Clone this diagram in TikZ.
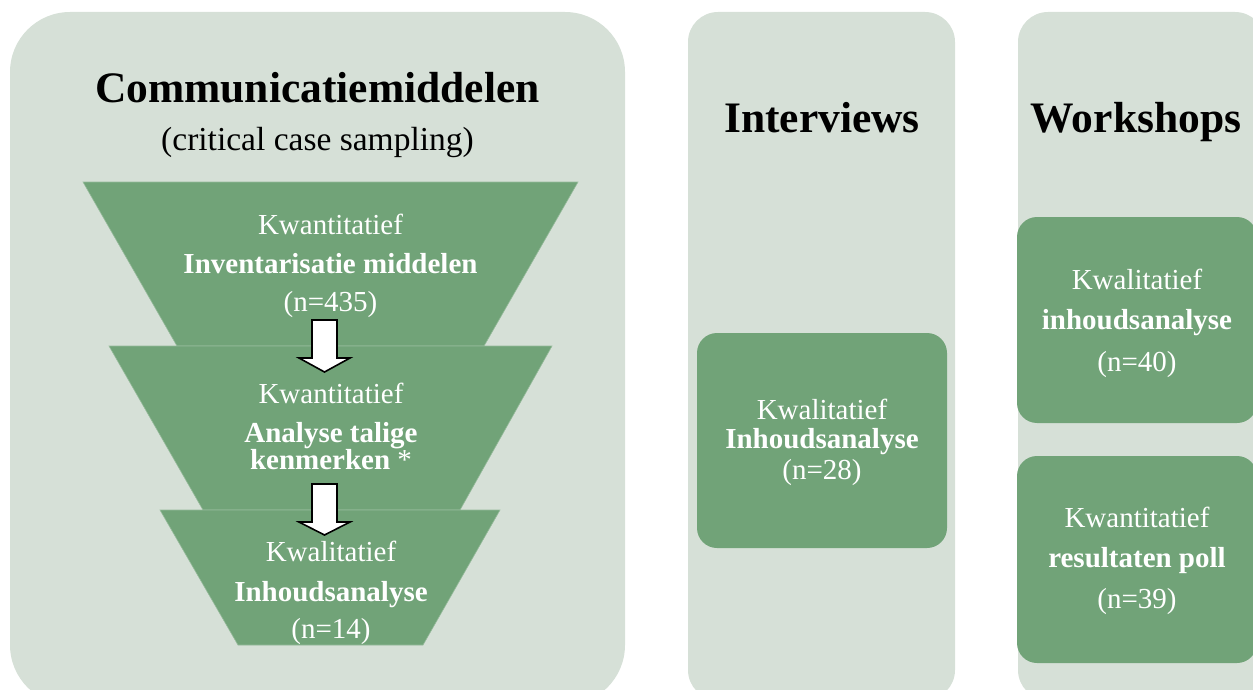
\documentclass[tikz,border=0pt]{standalone}
\usepackage{fontspec}
\setmainfont{Liberation Serif}
\definecolor{panelbg}{HTML}{D6E0D7}
\definecolor{boxgreen}{HTML}{71A378}
\begin{document}
\begin{tikzpicture}[x=1pt,y=-1pt,
  head/.style={font=\fontsize{43.5}{48}\selectfont\bfseries, text=black, anchor=base, inner sep=0pt},
  sub/.style={font=\fontsize{33.5}{38}\selectfont, text=black, anchor=base, inner sep=0pt},
  lbl/.style={font=\fontsize{29}{32}\selectfont, text=white, anchor=base, inner sep=0pt},
  lblb/.style={font=\fontsize{29}{32}\selectfont\bfseries, text=white, anchor=base, inner sep=0pt},
  funnel/.style={fill=boxgreen, draw=boxgreen!75!white, line width=0.6pt},
  greenbox/.style={fill=boxgreen, rounded corners=20pt},
  blockarrow/.style={fill=white, draw=black, line width=1.6pt, line join=miter}
]
\useasboundingbox (0,0) rectangle (1253,690);
\clip (0,0) rectangle (1253,690);
% panels
\fill[panelbg, rounded corners=60pt] (10,12) rectangle (625,705);
\fill[panelbg, rounded corners=30pt] (688,12) rectangle (955,700);
\fill[panelbg, rounded corners=30pt] (1018,12) rectangle (1265,700);
% headers
\node[head] (hcomm) at (317.5,103) {Communicatiemiddelen};
\node[sub] (hsub) at (317.5,150) {(critical case sampling)};
\node[head] (hint) at (822,133) {Interviews};
\node[head] (hwork) at (1136,133) {Workshops};
% funnel
\path[funnel] (83,182) -- (578,182) -- (484,346) -- (177,346) -- cycle;
\path[funnel] (109,346) -- (552,346) -- (460,510) -- (203,510) -- cycle;
\path[funnel] (160,510) -- (500,510) -- (423,645) -- (238,645) -- cycle;
% funnel texts
\node[lbl]  (f1a) at (330.5,234) {Kwantitatief};
\node[lblb] (f1b) at (330.5,273) {Inventarisatie middelen};
\node[lbl]  (f1c) at (330.5,311) {(n=435)};
\node[lbl]  (f2a) at (331,403) {Kwantitatief};
\node[lblb] (f2b) at (331,442) {Analyse talige};
\node[lblb] (f2c) at (331,469) {kenmerken \mdseries*};
\node[lbl]  (f3a) at (331,561) {Kwalitatief};
\node[lblb] (f3b) at (331,601) {Inhoudsanalyse};
\node[lbl]  (f3c) at (331,638) {(n=14)};
% block arrows
\draw[blockarrow] (312,320) -- (337,320) -- (337,358) -- (350,358) -- (324.5,372) -- (299,358) -- (312,358) -- cycle;
\draw[blockarrow] (312,484) -- (337,484) -- (337,522) -- (350,522) -- (324.5,535) -- (299,522) -- (312,522) -- cycle;
% interviews box
\fill[greenbox] (697,333) rectangle (947,548);
\node[lbl]  (i1) at (822,419) {Kwalitatief};
\node[lblb] (i2) at (822,448) {Inhoudsanalyse};
\node[lbl]  (i3) at (822,479) {(n=28)};
% workshops boxes
\fill[greenbox] (1017,217) rectangle (1257,423);
\fill[greenbox] (1017,456) rectangle (1257,663);
\node[lbl]  (w1a) at (1137,289) {Kwalitatief};
\node[lblb] (w1b) at (1137,329) {inhoudsanalyse};
\node[lbl]  (w1c) at (1137,371) {(n=40)};
\node[lbl]  (w2a) at (1137,527) {Kwantitatief};
\node[lblb] (w2b) at (1137,567) {resultaten poll};
\node[lbl]  (w2c) at (1137,608) {(n=39)};
\end{tikzpicture}
\end{document}
